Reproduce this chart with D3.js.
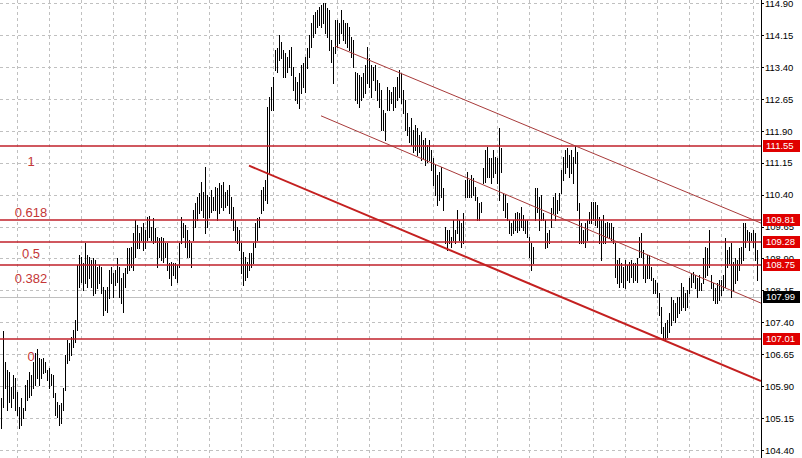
<!DOCTYPE html>
<html>
<head>
<meta charset="utf-8">
<script src="https://cdn.jsdelivr.net/npm/d3@7"></script>
<style>
  html, body { margin: 0; padding: 0; background: #fff; }
  svg { display: block; }
</style>
</head>
<body>
<div id="chart"></div>
<script>
// bar highs / lows, one per bar, oldest first
var highs = [
  105.62, 107.20, 106.46, 106.28, 106.23, 105.88, 106.16, 106.09, 105.76, 105.41,
  105.62, 105.39, 105.92, 106.04, 106.23, 106.16, 106.46, 106.68, 106.77, 106.56,
  106.54, 106.56, 106.46, 106.28, 106.32, 106.19, 106.16, 105.74, 105.52, 105.45,
  105.50, 105.85, 106.63, 106.98, 106.91, 107.05, 107.22, 107.45, 108.75,
  108.98, 108.93, 108.79, 109.26, 108.98, 108.93, 108.86, 108.91, 108.86, 108.70,
  108.75, 108.70, 108.23, 108.16, 108.23, 108.63, 108.70, 108.56, 108.63, 108.91,
  108.70, 108.44, 108.56, 108.67, 109.14, 109.14, 109.17, 109.50, 109.80, 109.68,
  109.50, 109.64, 109.73, 109.57, 109.87, 109.90, 109.64, 109.85, 109.61, 109.40,
  109.38, 109.40, 109.38, 109.26, 109.26, 108.79, 108.81, 108.79, 108.79, 108.75,
  109.26, 109.87, 109.73, 109.68, 109.57, 109.33, 109.26, 110.04, 110.20, 110.34,
  110.44, 110.70, 110.46, 111.05, 110.39, 110.34, 110.51, 110.34, 110.58, 110.55,
  110.67, 110.63, 110.70, 110.46, 110.51, 110.63, 110.34, 110.11, 109.80, 109.64,
  109.57, 109.26, 109.05, 108.93, 108.81, 109.03, 109.03, 109.26, 109.73, 109.85,
  109.87, 110.51, 110.58, 110.74, 112.46, 112.69,
  112.93, 113.16, 113.80, 113.84, 114.15, 113.98, 113.80, 113.73, 113.63, 113.80,
  113.87, 113.40, 113.16, 113.04, 113.26, 113.44, 113.49, 113.63, 113.84, 114.15,
  114.43, 114.62, 114.69, 114.73, 114.81, 114.85, 114.90, 114.90, 114.78, 114.73,
  114.03, 113.87, 114.50, 114.50, 114.43, 114.73, 114.50, 114.43, 114.43, 114.34,
  114.10, 114.03, 113.28, 113.26, 113.21, 113.16, 113.26, 113.44, 113.87, 113.61,
  113.44, 113.40, 113.44, 113.09, 113.02, 112.86, 112.39, 112.32, 112.93, 112.86,
  112.81, 112.93, 112.93, 113.16, 113.33, 113.26, 112.86, 112.62, 112.32, 111.99,
  112.20, 111.92, 112.04, 111.96, 111.80, 111.87, 111.68, 111.73, 111.56, 111.68,
  111.45, 111.26, 111.09, 110.86, 110.93, 111.05, 110.55,
  109.64, 109.57, 109.57, 109.40, 109.80, 109.57, 110.04, 109.80, 109.73, 109.97,
  110.74, 110.93, 110.74, 110.86, 110.79, 110.58, 110.34, 110.20, 110.23, 111.02,
  111.45, 111.52, 111.26, 111.26, 111.45, 111.28, 111.26, 111.96, 111.49, 110.44,
  110.39, 110.20, 109.80, 109.73, 109.80, 109.97, 109.99, 109.97, 110.11, 109.92,
  109.80, 109.80, 109.40, 109.26, 109.17, 110.55, 110.55, 110.34, 110.39, 109.97,
  109.80, 109.50, 109.57, 110.08, 110.34, 110.44, 110.27, 110.44, 110.98, 111.28,
  111.45, 111.49, 111.33, 111.45, 111.28, 111.55, 111.40, 110.20, 109.73, 109.57,
  109.73, 109.80, 109.99, 110.23, 110.23, 110.23, 110.16, 109.87,
  109.80, 109.92, 109.73, 109.75, 109.73, 109.73, 109.64, 109.26, 108.86, 108.91,
  108.79, 108.70, 108.86, 108.75, 108.81, 108.86, 108.79, 108.79, 108.91, 109.40,
  109.50, 109.10, 108.75, 108.98, 108.98, 108.70, 108.44, 108.39, 108.32, 108.09,
  107.76, 107.29, 107.38, 107.45, 107.62, 107.99, 107.92, 107.85, 107.99, 107.99,
  108.32, 108.23, 108.09, 108.16, 108.44, 108.56, 108.58, 108.51, 108.44, 108.51,
  108.32, 108.91, 109.17, 109.14, 109.57, 108.51, 108.32, 108.20, 108.32, 108.39,
  108.39, 108.51, 109.38, 109.10, 109.17, 109.26, 108.81, 108.91, 108.86, 109.14,
  109.17, 109.73, 109.73, 109.57, 109.52, 109.50, 109.57, 109.50, 109.10
];
var lows = [
  104.91, 105.41, 105.85, 105.34, 105.52, 105.41, 105.62, 105.34, 105.22, 104.91,
  104.98, 105.15, 105.34, 105.57, 105.65, 105.69, 105.85, 105.92, 106.09, 105.92,
  106.09, 106.21, 106.23, 106.04, 105.85, 105.92, 105.65, 105.22, 105.18, 104.98,
  105.03, 105.34, 105.81, 106.44, 106.51, 106.63, 106.82, 106.93, 107.22,
  108.23, 108.34, 108.16, 108.32, 108.23, 108.44, 108.23, 108.04, 108.09, 108.20,
  108.32, 108.09, 107.57, 107.69, 107.64, 107.97, 108.32, 107.99, 108.27, 108.34,
  107.99, 107.85, 107.64, 108.23, 108.56, 108.63, 108.70, 108.63, 108.93, 109.14,
  109.14, 109.33, 109.10, 109.14, 109.33, 109.40, 109.33, 109.26, 109.28, 108.70,
  108.93, 108.86, 108.81, 108.93, 108.63, 108.44, 108.27, 108.51, 108.44, 108.34,
  108.70, 109.26, 109.40, 109.17, 108.93, 108.93, 108.70, 109.33, 109.64, 109.80,
  109.97, 110.04, 109.87, 109.50, 109.64, 109.87, 109.99, 110.04, 110.04, 109.80,
  109.97, 110.11, 110.04, 110.11, 110.16, 109.97, 109.80, 109.57, 109.33, 109.26,
  109.10, 108.56, 108.27, 108.39, 108.46, 108.63, 108.70, 108.79, 109.17, 109.33,
  109.64, 109.97, 110.04, 110.27, 110.20, 110.91,
  112.39, 112.39, 113.33, 113.28, 113.56, 113.61, 113.16, 113.16, 113.28, 113.40,
  113.21, 112.86, 112.62, 112.55, 112.43, 112.79, 112.93, 112.81, 113.37, 113.63,
  113.87, 114.10, 114.20, 114.34, 114.38, 114.34, 114.43, 114.20, 114.10, 113.80,
  113.51, 113.02, 113.73, 113.87, 113.96, 114.20, 114.03, 113.96, 113.87, 113.80,
  113.63, 113.40, 112.62, 112.55, 112.46, 112.62, 112.69, 112.79, 113.02, 112.93,
  112.69, 113.09, 112.86, 112.62, 112.46, 111.92, 111.92, 111.68, 112.39, 112.39,
  112.55, 112.39, 112.46, 112.62, 112.69, 112.55, 112.32, 111.92, 111.80, 111.64,
  111.56, 111.40, 111.45, 111.33, 111.40, 111.21, 111.26, 111.09, 111.16, 111.21,
  110.98, 110.63, 110.39, 110.16, 110.27, 110.34, 110.04,
  109.26, 109.10, 109.26, 109.17, 109.33, 109.26, 109.50, 109.33, 109.17, 109.26,
  110.34, 110.34, 110.34, 110.34, 110.39, 110.27, 109.80, 109.80, 109.99, 110.67,
  110.70, 110.81, 110.81, 110.67, 110.81, 110.91, 110.67, 110.27, 110.93, 110.04,
  109.87, 109.80, 109.50, 109.45, 109.50, 109.57, 109.52, 109.57, 109.64, 109.57,
  109.50, 109.40, 108.93, 108.63, 108.79, 109.80, 109.99, 109.57, 109.80, 109.80,
  109.14, 109.17, 109.26, 109.64, 109.97, 109.80, 109.97, 110.04, 110.44, 110.74,
  110.91, 111.05, 110.81, 110.91, 110.67, 111.14, 110.04, 109.26, 109.26, 109.26,
  109.17, 109.33, 109.73, 109.73, 109.80, 109.68, 109.64, 109.26,
  108.86, 109.26, 109.26, 109.40, 109.38, 109.33, 109.26, 108.46, 108.32, 108.23,
  108.34, 108.23, 108.20, 108.39, 108.34, 108.46, 108.34, 108.39, 108.34, 108.93,
  108.93, 108.44, 108.34, 108.44, 108.44, 108.39, 108.09, 108.09, 107.99, 107.57,
  107.15, 107.04, 107.01, 107.06, 107.17, 107.33, 107.45, 107.40, 107.52, 107.62,
  107.69, 107.76, 107.69, 107.76, 108.09, 108.23, 108.34, 108.20, 107.99, 108.16,
  108.16, 108.32, 108.46, 108.51, 108.70, 108.20, 107.92, 107.85, 107.85, 107.92,
  108.04, 108.16, 108.23, 108.70, 108.79, 107.99, 108.16, 108.32, 108.39, 108.63,
  108.79, 108.86, 109.17, 109.33, 109.10, 109.33, 109.17, 108.86, 108.39
];

// price scale labels
var priceTicks = [104.40, 105.15, 105.90, 106.65, 107.40, 108.15, 108.90, 109.65,
                  110.40, 111.15, 111.90, 112.65, 113.40, 114.15, 114.90];

// fibonacci retracement levels
var fibRatios = ["0", "0.382", "0.5", "0.618", "1"];
var fibPrices = [107.01, 108.75, 109.28, 109.81, 111.55];
var bidPrice = 107.99;

// trend channel: [bar index, price] anchors
var channelFrom = [[167, 113.89], [160, 112.25], [124, 111.08]];
var channelTo   = [[380, 109.73], [380, 107.85], [380, 106.02]];

document.addEventListener('DOMContentLoaded', function () {
  var width = 802, height = 458, plotRight = 761;
  var n = highs.length;

  var svg = d3.select("#chart").append("svg")
    .attr("width", width).attr("height", height)
    .style("font-family", "'Liberation Sans', Arial, sans-serif");

  var x = d3.scaleLinear().domain([0, n - 1]).range([1, 1 + 2 * (n - 1)]);
  var y = d3.scaleLinear().domain([104.40, 114.90]).range([450, 3]);
  var crisp = function (v) { return Math.round(v) + 0.5; };

  var plot = svg.append("g");
  plot.append("clipPath").attr("id", "clip")
    .append("rect").attr("x", 0).attr("y", 0).attr("width", plotRight).attr("height", height);

  // grid
  var grid = plot.append("g").attr("stroke", "#c0c0c0").attr("stroke-dasharray", "3,3")
    .attr("shape-rendering", "crispEdges");
  grid.selectAll("line.h").data(priceTicks).enter().append("line")
    .attr("x1", 0).attr("x2", plotRight)
    .attr("y1", function (d) { return crisp(y(d)); })
    .attr("y2", function (d) { return crisp(y(d)); });
  grid.selectAll("line.v").data(d3.range(8, n, 16)).enter().append("line")
    .attr("y1", 0).attr("y2", height)
    .attr("x1", function (d) { return x(d) + 0.5; })
    .attr("x2", function (d) { return x(d) + 0.5; });

  // bid line
  plot.append("line").attr("x1", 0).attr("x2", plotRight)
    .attr("y1", crisp(y(bidPrice))).attr("y2", crisp(y(bidPrice)))
    .attr("stroke", "#c0c0c0").attr("shape-rendering", "crispEdges");

  // bars
  plot.append("g").selectAll("rect").data(highs).enter().append("rect")
    .attr("x", function (d, i) { return x(i); })
    .attr("width", 1)
    .attr("y", function (d) { return Math.round(y(d)); })
    .attr("height", function (d, i) { return Math.max(1, Math.round(y(lows[i])) - Math.round(y(d)) + 1); })
    .attr("fill", "#000")
    .attr("shape-rendering", "crispEdges");

  // fibo levels
  var fib = plot.append("g");
  fib.selectAll("line").data(fibPrices).enter().append("line")
    .attr("x1", 0).attr("x2", plotRight)
    .attr("y1", function (d) { return Math.round(y(d)); })
    .attr("y2", function (d) { return Math.round(y(d)); })
    .attr("stroke", "#c0202a").attr("stroke-width", 1.4);
  var fibDy = [22, 18, 16, -3, 20];
  fib.selectAll("text").data(fibRatios).enter().append("text")
    .attr("x", 31)
    .attr("y", function (d, i) { return Math.round(y(fibPrices[i])) + fibDy[i]; })
    .attr("text-anchor", "middle")
    .attr("font-size", 13)
    .attr("fill", "#c43636")
    .text(function (d) { return d; });

  // channel lines, extended to the price scale
  var chWidth = [1, 1, 2];
  var chColor = ["#a83a3a", "#a83a3a", "#c42020"];
  var ch = plot.append("g").attr("clip-path", "url(#clip)");
  channelFrom.forEach(function (a, k) {
    var b = channelTo[k];
    var slope = (b[1] - a[1]) / (b[0] - a[0]);
    var iEnd = x.invert(plotRight);
    ch.append("line")
      .attr("x1", x(a[0])).attr("y1", y(a[1]))
      .attr("x2", plotRight).attr("y2", y(a[1] + slope * (iEnd - a[0])))
      .attr("stroke", chColor[k]).attr("stroke-width", chWidth[k]);
  });

  // price axis
  var axis = svg.append("g").attr("transform", "translate(" + plotRight + ",0)");
  axis.append("line").attr("x1", 0.5).attr("x2", 0.5).attr("y1", 0).attr("y2", height)
    .attr("stroke", "#000");
  axis.call(d3.axisRight(y).tickValues(priceTicks).tickSize(3).tickSizeOuter(0)
      .tickFormat(d3.format(".2f")))
    .call(function (g) { g.select(".domain").remove(); })
    .call(function (g) {
      g.selectAll(".tick line").attr("stroke", "#000").attr("shape-rendering", "crispEdges");
      g.selectAll(".tick text").attr("font-size", 9.5).attr("font-family", "'Liberation Sans', Arial, sans-serif")
        .attr("fill", "#000").attr("x", 4).attr("dy", "0.35em");
    });

  // level boxes
  var boxes = fibPrices.map(function (p) { return { p: p, c: "#e00000" }; });
  boxes.push({ p: bidPrice, c: "#000" });
  var bx = axis.selectAll("g.box").data(boxes).enter().append("g")
    .attr("transform", function (d) { return "translate(0," + Math.round(y(d.p)) + ")"; });
  bx.append("rect").attr("x", 2).attr("y", -6).attr("width", 37).attr("height", 12)
    .attr("fill", function (d) { return d.c; });
  bx.append("text").attr("x", 5).attr("y", 0).attr("dy", "0.35em")
    .attr("font-size", 9.5).attr("fill", "#fff")
    .text(function (d) { return d.p.toFixed(2); });
});
</script>
</body>
</html>
